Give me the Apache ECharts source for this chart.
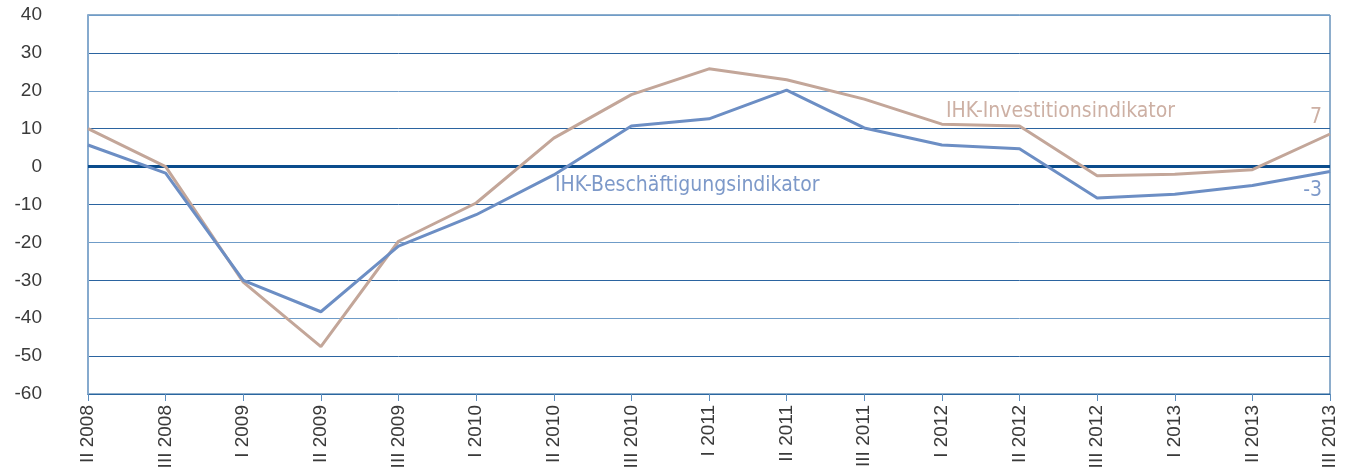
<!DOCTYPE html>
<html>
<head>
<meta charset="utf-8">
<title>IHK-Indikatoren</title>
<script src="https://cdn.jsdelivr.net/npm/echarts@6/dist/echarts.min.js"></script>
<style>
  html, body { margin: 0; padding: 0; background: #fff; }
  #main { width: 1354px; height: 475px; }
</style>
</head>
<body>
<div id="main"></div>
<script>
// Quartale
var quarters = ['II 2008', 'III 2008', 'I 2009', 'II 2009', 'III 2009', 'I 2010', 'II 2010', 'III 2010',
  'I 2011', 'II 2011', 'III 2011', 'I 2012', 'II 2012', 'III 2012', 'I 2013', 'II 2013', 'III 2013'];
// IHK-Investitionsindikator
var investition = [10, 0, -30.5, -47.5, -19.7, -9.6, 7.5, 19, 25.8, 22.9, 17.8, 11.2, 10.7, -2.4, -2, -0.8, 8.6];
// IHK-Beschäftigungsindikator
var beschaeftigung = [5.7, -1.7, -30, -38.3, -21, -12.7, -2.2, 10.7, 12.6, 20.2, 10.2, 5.7, 4.7, -8.3, -7.3, -5, -1.3];
var yTicks = [-60, -50, -40, -30, -20, -10, 0, 10, 20, 30, 40];

var tanColor = '#c3a699';
var blueColor = '#6c8ec4';
var fontFam = '"Liberation Sans Narrow", "DejaVu Sans Condensed", "Liberation Sans", sans-serif';

var chart = echarts.init(document.getElementById('main'));

chart.setOption({
  animation: false,
  grid: { left: 88, right: 24, top: 15, bottom: 81, show: true, borderColor: '#1d5d99', borderWidth: 1 },
  xAxis: {
    type: 'category',
    data: quarters,
    boundaryGap: false,
    axisLine: { onZero: false, lineStyle: { color: '#2a669f', width: 1 } },
    axisTick: { show: true, length: 7, lineStyle: { color: '#5c8dbd' } },
    axisLabel: { rotate: 90, color: '#3a3a3a', fontSize: 19, fontFamily: '"Liberation Sans", sans-serif', margin: 11 },
    splitLine: { show: false }
  },
  yAxis: {
    type: 'value',
    min: yTicks[0],
    max: yTicks[yTicks.length - 1],
    interval: 10,
    axisLine: { show: true, lineStyle: { color: '#86aace', width: 2 } },
    axisTick: { show: false },
    axisLabel: { color: '#3a3a3a', fontSize: 19, fontFamily: '"Liberation Sans", sans-serif', margin: 46, align: 'right',
      formatter: function (v) { return v < 0 ? '-' + Math.abs(v) : '' + v; } },
    splitLine: { show: true, lineStyle: { color: ['#2b64a0', '#2b64a0', '#6f9cc8', '#2b64a0', '#6f9cc8', '#2b64a0', '#0b4c8c', '#2b64a0', '#6f9cc8', '#2b64a0', '#6f9cc8'], width: 1 } }
  },
  series: [
    {
      name: 'IHK-Investitionsindikator',
      type: 'line',
      data: investition,
      symbol: 'none',
      lineStyle: { color: tanColor, width: 3 },
      z: 3
    },
    {
      name: 'IHK-Beschäftigungsindikator',
      type: 'line',
      data: beschaeftigung,
      symbol: 'none',
      lineStyle: { color: blueColor, width: 3 },
      z: 4,
      markLine: {
        silent: true,
        symbol: 'none',
        label: { show: false },
        lineStyle: { color: '#0b4c8c', width: 3, type: 'solid' },
        data: [{ yAxis: 0 }],
        z: 2
      }
    }
  ],
  graphic: [
    { type: 'text', left: 946, top: 101, style: { text: 'IHK-Investitionsindikator', fill: '#cdb0a4', font: '21px ' + fontFam } },
    { type: 'text', left: 555, top: 175, style: { text: 'IHK-Beschäftigungsindikator', fill: '#7d99c9', font: '21px ' + fontFam } },
    { type: 'text', right: 32, top: 107, style: { text: '7', fill: '#cdb0a4', font: '21px ' + fontFam } },
    { type: 'text', right: 32, top: 180, style: { text: '-3', fill: '#7d99c9', font: '21px ' + fontFam } }
  ]
});
</script>
</body>
</html>
